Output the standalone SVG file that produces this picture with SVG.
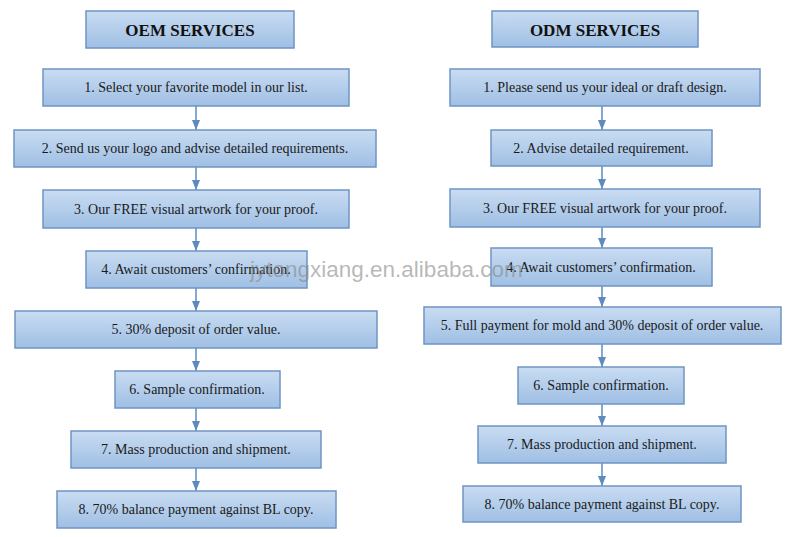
<svg xmlns="http://www.w3.org/2000/svg" width="800" height="537" viewBox="0 0 800 537">
<defs>
<linearGradient id="g" x1="0" y1="0" x2="0" y2="1">
<stop offset="0" stop-color="#c9dcf2"/>
<stop offset="1" stop-color="#9fbfe4"/>
</linearGradient>
<marker id="ah" markerWidth="10" markerHeight="8" refX="10" refY="4" orient="auto" markerUnits="userSpaceOnUse">
<path d="M0,0 L10,4 L0,8 Z" fill="#5d8bbf"/>
</marker>
<style>
.b{fill:url(#g);stroke:#6f95c4;stroke-width:1.5}
.t{font-family:"Liberation Serif","Times New Roman",serif;font-size:14px;fill:#1a1a1a;text-anchor:middle}
.h{font-family:"Liberation Serif","Times New Roman",serif;font-size:17px;font-weight:bold;fill:#111;text-anchor:middle}
.c line{stroke:#5d8bbf;stroke-width:1.5;marker-end:url(#ah)}
.w{font-family:"Liberation Sans",Arial,sans-serif;font-size:22.5px;fill:#888;fill-opacity:0.6}
</style>
</defs>
<rect width="800" height="537" fill="#fff"/>
<g class="c">
<line x1="196" y1="106" x2="196" y2="130"/>
<line x1="196" y1="167" x2="196" y2="190"/>
<line x1="196" y1="228" x2="196" y2="251"/>
<line x1="196" y1="288" x2="196" y2="311"/>
<line x1="196" y1="348" x2="196" y2="371"/>
<line x1="196" y1="408" x2="196" y2="431"/>
<line x1="196" y1="468" x2="196" y2="491"/>
<line x1="602" y1="106" x2="602" y2="130"/>
<line x1="602" y1="166" x2="602" y2="189"/>
<line x1="602" y1="227" x2="602" y2="248"/>
<line x1="602" y1="286" x2="602" y2="307"/>
<line x1="602" y1="344" x2="602" y2="367"/>
<line x1="602" y1="404" x2="602" y2="426"/>
<line x1="602" y1="463" x2="602" y2="486"/>
</g>
<g id="oem-title"><rect class="b" x="86" y="11" width="208" height="37"/><text class="h" x="190" y="36">OEM SERVICES</text></g>
<g id="oem1"><rect class="b" x="43" y="69" width="306" height="37"/><text class="t" x="196" y="92">1. Select your favorite model in our list.</text></g>
<g id="oem2"><rect class="b" x="14" y="130" width="362" height="37"/><text class="t" x="195" y="153">2. Send us your logo and advise detailed requirements.</text></g>
<g id="oem3"><rect class="b" x="43" y="190" width="306" height="38"/><text class="t" x="196" y="214">3. Our FREE visual artwork for your proof.</text></g>
<g id="oem4"><rect class="b" x="86" y="251" width="221" height="37"/><text class="t" x="196" y="274">4. Await customers’ confirmation.</text></g>
<g id="oem5"><rect class="b" x="15" y="311" width="362" height="37"/><text class="t" x="196" y="334">5. 30% deposit of order value.</text></g>
<g id="oem6"><rect class="b" x="115" y="371" width="165" height="37"/><text class="t" x="197" y="394">6. Sample confirmation.</text></g>
<g id="oem7"><rect class="b" x="71" y="431" width="250" height="37"/><text class="t" x="196" y="454">7. Mass production and shipment.</text></g>
<g id="oem8"><rect class="b" x="57" y="491" width="279" height="37"/><text class="t" x="196" y="514">8. 70% balance payment against BL copy.</text></g>
<g id="odm-title"><rect class="b" x="492" y="11" width="206" height="36"/><text class="h" x="595" y="36">ODM SERVICES</text></g>
<g id="odm1"><rect class="b" x="450" y="69" width="310" height="37"/><text class="t" x="605" y="92">1. Please send us your ideal or draft design.</text></g>
<g id="odm2"><rect class="b" x="491" y="130" width="221" height="36"/><text class="t" x="601" y="153">2. Advise detailed requirement.</text></g>
<g id="odm3"><rect class="b" x="450" y="189" width="310" height="38"/><text class="t" x="605" y="213">3. Our FREE visual artwork for your proof.</text></g>
<g id="odm4"><rect class="b" x="491" y="248" width="221" height="38"/><text class="t" x="601" y="272">4. Await customers’ confirmation.</text></g>
<g id="odm5"><rect class="b" x="424" y="307" width="357" height="37"/><text class="t" x="602" y="330">5. Full payment for mold and 30% deposit of order value.</text></g>
<g id="odm6"><rect class="b" x="518" y="367" width="166" height="37"/><text class="t" x="601" y="390">6. Sample confirmation.</text></g>
<g id="odm7"><rect class="b" x="478" y="426" width="248" height="37"/><text class="t" x="602" y="449">7. Mass production and shipment.</text></g>
<g id="odm8"><rect class="b" x="463" y="486" width="278" height="36"/><text class="t" x="602" y="509">8. 70% balance payment against BL copy.</text></g>
<text class="w" x="250" y="277">jytongxiang.en.alibaba.com</text>
</svg>
